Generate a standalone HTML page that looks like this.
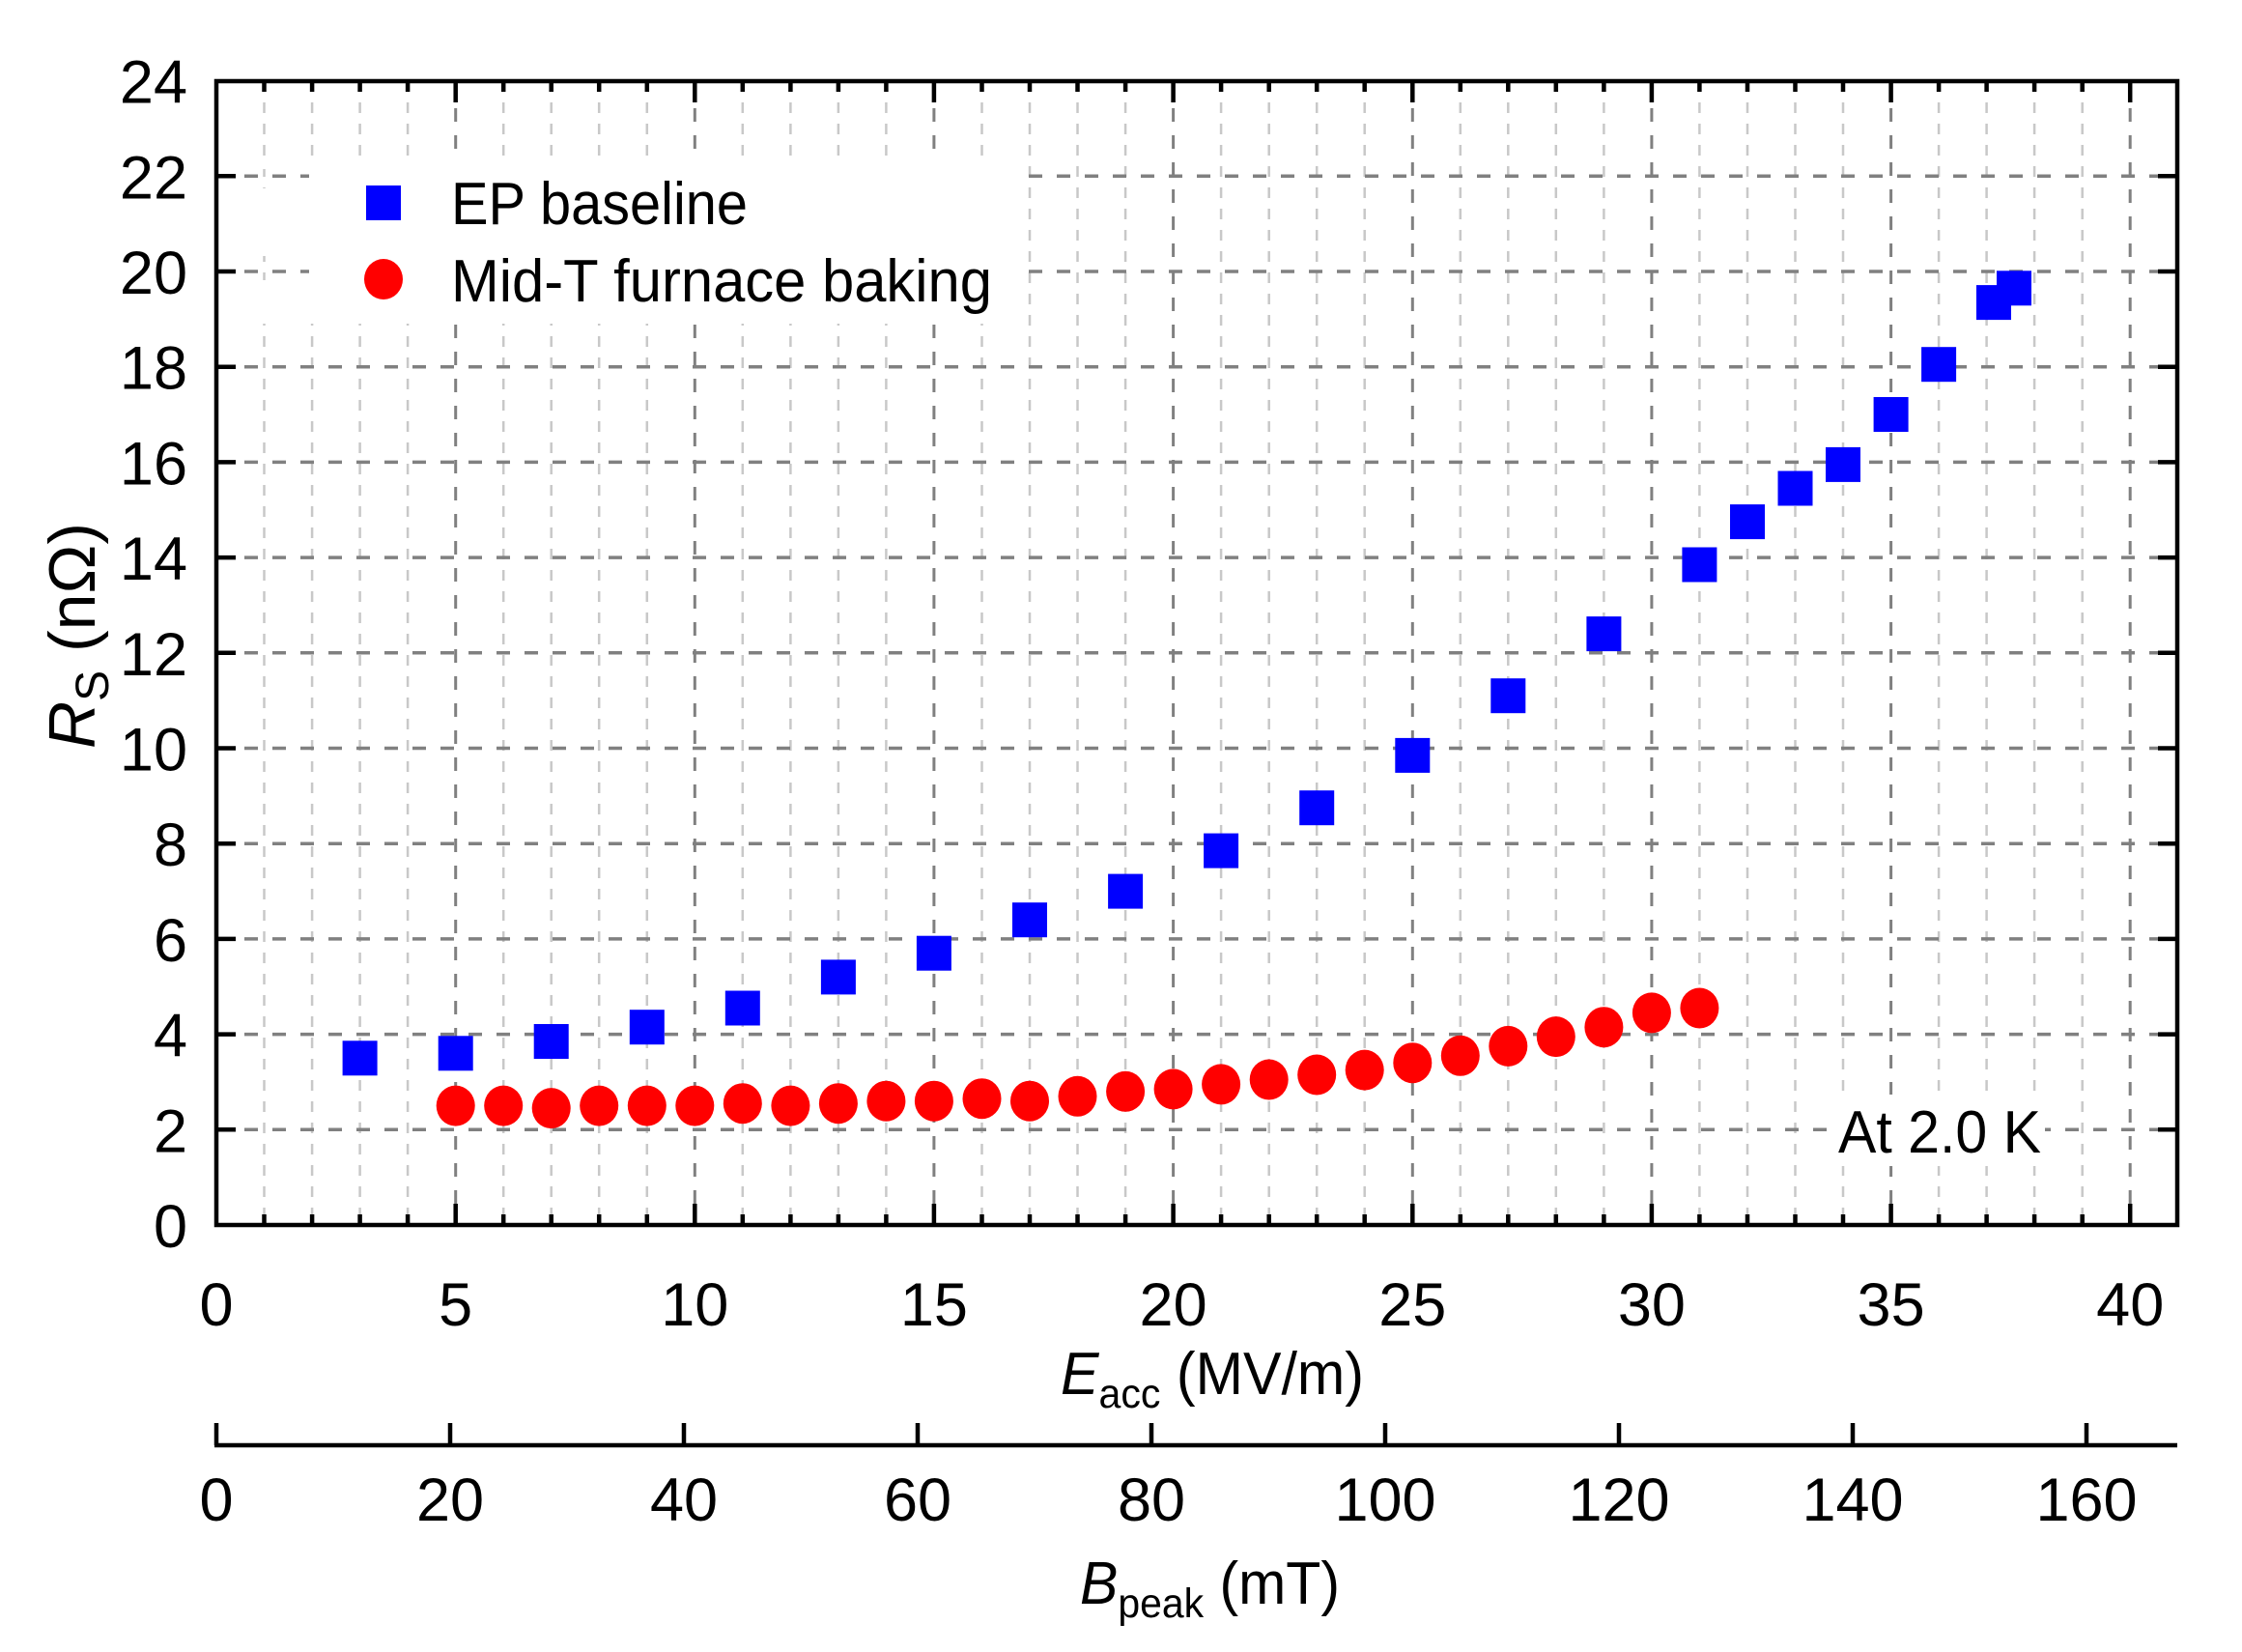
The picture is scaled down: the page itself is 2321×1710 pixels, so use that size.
<!DOCTYPE html>
<html><head><meta charset="utf-8"><style>
html,body{margin:0;padding:0;background:#fff;}
svg{display:block;}
text{font-family:"Liberation Sans",Arial,sans-serif;fill:#000;}
</style></head><body>
<svg width="2321" height="1710" viewBox="0 0 2321 1710" xmlns="http://www.w3.org/2000/svg">
<!-- minor vertical grid -->
<path fill="none" stroke="#c8c8c8" stroke-width="2.5" stroke-dasharray="11,11" d="M273.5 84V1268M323.1 84V1268M372.6 84V1268M422.1 84V1268M521.2 84V1268M570.7 84V1268M620.2 84V1268M669.8 84V1268M768.8 84V1268M818.4 84V1268M867.9 84V1268M917.4 84V1268M1016.5 84V1268M1066 84V1268M1115.5 84V1268M1165.1 84V1268M1264.1 84V1268M1313.7 84V1268M1363.2 84V1268M1412.7 84V1268M1511.8 84V1268M1561.3 84V1268M1610.8 84V1268M1660.4 84V1268M1759.4 84V1268M1809 84V1268M1858.5 84V1268M1908 84V1268M2007.1 84V1268M2056.6 84V1268M2106.1 84V1268M2155.7 84V1268"/>
<!-- major vertical grid -->
<path fill="none" stroke="#808080" stroke-width="3" stroke-dasharray="14,14" d="M471.7 84V1268M719.3 84V1268M966.9 84V1268M1214.6 84V1268M1462.3 84V1268M1709.9 84V1268M1957.6 84V1268M2205.2 84V1268"/>
<!-- horizontal grid -->
<path fill="none" stroke="#808080" stroke-width="3.5" stroke-dasharray="14,15" d="M224 1169.3H2254M224 1070.6H2254M224 971.9H2254M224 873.2H2254M224 774.5H2254M224 675.8H2254M224 577.1H2254M224 478.4H2254M224 379.7H2254M224 281H2254M224 182.3H2254"/>
<!-- legend background -->
<rect x="320" y="163" width="744" height="172" fill="#fff"/>
<rect x="250" y="195" width="80" height="70" fill="#fff"/>
<rect x="250" y="290" width="80" height="45" fill="#fff"/>
<rect x="250" y="163" width="80" height="12" fill="#fff"/>
<!-- At 2.0 K background -->
<rect x="1895" y="1133" width="222" height="74" fill="#fff"/>
<!-- axes box -->
<rect x="224" y="84" width="2030" height="1184" fill="none" stroke="#000" stroke-width="4.5"/>
<!-- ticks -->
<path fill="none" stroke="#000" stroke-width="4.5" d="M273.5 1268v-11M323.1 1268v-11M372.6 1268v-11M422.1 1268v-11M471.7 1268v-22M521.2 1268v-11M570.7 1268v-11M620.2 1268v-11M669.8 1268v-11M719.3 1268v-22M768.8 1268v-11M818.4 1268v-11M867.9 1268v-11M917.4 1268v-11M966.9 1268v-22M1016.5 1268v-11M1066 1268v-11M1115.5 1268v-11M1165.1 1268v-11M1214.6 1268v-22M1264.1 1268v-11M1313.7 1268v-11M1363.2 1268v-11M1412.7 1268v-11M1462.3 1268v-22M1511.8 1268v-11M1561.3 1268v-11M1610.8 1268v-11M1660.4 1268v-11M1709.9 1268v-22M1759.4 1268v-11M1809 1268v-11M1858.5 1268v-11M1908 1268v-11M1957.6 1268v-22M2007.1 1268v-11M2056.6 1268v-11M2106.1 1268v-11M2155.7 1268v-11M2205.2 1268v-22
M273.5 84v11M323.1 84v11M372.6 84v11M422.1 84v11M471.7 84v22M521.2 84v11M570.7 84v11M620.2 84v11M669.8 84v11M719.3 84v22M768.8 84v11M818.4 84v11M867.9 84v11M917.4 84v11M966.9 84v22M1016.5 84v11M1066 84v11M1115.5 84v11M1165.1 84v11M1214.6 84v22M1264.1 84v11M1313.7 84v11M1363.2 84v11M1412.7 84v11M1462.3 84v22M1511.8 84v11M1561.3 84v11M1610.8 84v11M1660.4 84v11M1709.9 84v22M1759.4 84v11M1809 84v11M1858.5 84v11M1908 84v11M1957.6 84v22M2007.1 84v11M2056.6 84v11M2106.1 84v11M2155.7 84v11M2205.2 84v22
M224 1169.3h20M224 1070.6h20M224 971.9h20M224 873.2h20M224 774.5h20M224 675.8h20M224 577.1h20M224 478.4h20M224 379.7h20M224 281h20M224 182.3h20
M2254 1169.3h-20M2254 1070.6h-20M2254 971.9h-20M2254 873.2h-20M2254 774.5h-20M2254 675.8h-20M2254 577.1h-20M2254 478.4h-20M2254 379.7h-20M2254 281h-20M2254 182.3h-20"/>
<!-- second axis -->
<path fill="none" stroke="#000" stroke-width="4.5" d="M222 1496H2254M224 1496v-23M466 1496v-23M708 1496v-23M950 1496v-23M1192 1496v-23M1434 1496v-23M1676 1496v-23M1918 1496v-23M2160 1496v-23"/>
<!-- tick labels -->
<g font-size="63" text-anchor="middle">
<text x="224" y="1372">0</text><text x="471.7" y="1372">5</text><text x="719.3" y="1372">10</text><text x="966.9" y="1372">15</text><text x="1214.6" y="1372">20</text><text x="1462.3" y="1372">25</text><text x="1709.9" y="1372">30</text><text x="1957.6" y="1372">35</text><text x="2205.2" y="1372">40</text>
<text x="224" y="1574">0</text><text x="466" y="1574">20</text><text x="708" y="1574">40</text><text x="950" y="1574">60</text><text x="1192" y="1574">80</text><text x="1434" y="1574">100</text><text x="1676" y="1574">120</text><text x="1918" y="1574">140</text><text x="2160" y="1574">160</text>
</g>
<g font-size="63" text-anchor="end">
<text x="194" y="1291">0</text><text x="194" y="1192.3">2</text><text x="194" y="1093.6">4</text><text x="194" y="994.9">6</text><text x="194" y="896.2">8</text><text x="194" y="797.5">10</text><text x="194" y="698.8">12</text><text x="194" y="600.1">14</text><text x="194" y="501.4">16</text><text x="194" y="402.7">18</text><text x="194" y="304">20</text><text x="194" y="205.3">22</text><text x="194" y="106.6">24</text>
</g>
<!-- data: EP baseline -->
<g fill="#0000ff">
<rect x="354.6" y="1077.3" width="36" height="36"/><rect x="453.7" y="1072.3" width="36" height="36"/><rect x="552.7" y="1060" width="36" height="36"/><rect x="651.8" y="1045.2" width="36" height="36"/><rect x="750.8" y="1025.5" width="36" height="36"/><rect x="849.9" y="993.4" width="36" height="36"/><rect x="948.9" y="968.7" width="36" height="36"/><rect x="1048" y="934.2" width="36" height="36"/><rect x="1147.1" y="904.6" width="36" height="36"/><rect x="1246.1" y="862.6" width="36" height="36"/><rect x="1345.2" y="818.2" width="36" height="36"/><rect x="1444.3" y="763.9" width="36" height="36"/><rect x="1543.3" y="702.2" width="36" height="36"/><rect x="1642.4" y="638.1" width="36" height="36"/><rect x="1741.4" y="566.5" width="36" height="36"/><rect x="1791" y="522.1" width="36" height="36"/><rect x="1840.5" y="487.5" width="36" height="36"/><rect x="1890" y="462.9" width="36" height="36"/><rect x="1939.6" y="411" width="36" height="36"/><rect x="1989.1" y="359.2" width="36" height="36"/><rect x="2046" y="295.1" width="36" height="36"/><rect x="2067" y="280.3" width="36" height="36"/>
</g>
<!-- data: Mid-T -->
<g fill="#ff0000">
<ellipse cx="471.7" cy="1144.6" rx="20" ry="21"/><ellipse cx="521.2" cy="1144.6" rx="20" ry="21"/><ellipse cx="570.7" cy="1147.1" rx="20" ry="21"/><ellipse cx="620.2" cy="1144.6" rx="20" ry="21"/><ellipse cx="669.8" cy="1144.6" rx="20" ry="21"/><ellipse cx="719.3" cy="1144.6" rx="20" ry="21"/><ellipse cx="768.8" cy="1142.2" rx="20" ry="21"/><ellipse cx="818.4" cy="1144.6" rx="20" ry="21"/><ellipse cx="867.9" cy="1142.2" rx="20" ry="21"/><ellipse cx="917.4" cy="1139.7" rx="20" ry="21"/><ellipse cx="966.9" cy="1139.7" rx="20" ry="21"/><ellipse cx="1016.5" cy="1137.2" rx="20" ry="21"/><ellipse cx="1066" cy="1139.7" rx="20" ry="21"/><ellipse cx="1115.5" cy="1134.8" rx="20" ry="21"/><ellipse cx="1165.1" cy="1129.8" rx="20" ry="21"/><ellipse cx="1214.6" cy="1127.4" rx="20" ry="21"/><ellipse cx="1264.1" cy="1122.4" rx="20" ry="21"/><ellipse cx="1313.7" cy="1117.5" rx="20" ry="21"/><ellipse cx="1363.2" cy="1112.5" rx="20" ry="21"/><ellipse cx="1412.7" cy="1107.6" rx="20" ry="21"/><ellipse cx="1462.3" cy="1100.2" rx="20" ry="21"/><ellipse cx="1511.8" cy="1092.8" rx="20" ry="21"/><ellipse cx="1561.3" cy="1082.9" rx="20" ry="21"/><ellipse cx="1610.8" cy="1073.1" rx="20" ry="21"/><ellipse cx="1660.4" cy="1063.2" rx="20" ry="21"/><ellipse cx="1709.9" cy="1048.4" rx="20" ry="21"/><ellipse cx="1759.4" cy="1043.5" rx="20" ry="21"/>
</g>
<!-- legend -->
<rect x="379" y="192" width="36" height="36" fill="#0000ff"/>
<ellipse cx="397" cy="289" rx="20" ry="21" fill="#ff0000"/>
<text x="467" y="232" font-size="62" textLength="307" lengthAdjust="spacingAndGlyphs">EP baseline</text>
<text x="467" y="312" font-size="62" textLength="560" lengthAdjust="spacingAndGlyphs">Mid-T furnace baking</text>
<text x="1903" y="1193" font-size="62" textLength="210" lengthAdjust="spacingAndGlyphs">At 2.0 K</text>
<!-- titles -->
<text x="1098" y="1443" font-size="62" textLength="314" lengthAdjust="spacingAndGlyphs"><tspan font-style="italic">E</tspan><tspan font-size="43" dy="14">acc</tspan><tspan dy="-14"> (MV/m)</tspan></text>
<text x="1118" y="1660" font-size="62" textLength="269" lengthAdjust="spacingAndGlyphs"><tspan font-style="italic">B</tspan><tspan font-size="43" dy="14">peak</tspan><tspan dy="-14"> (mT)</tspan></text>
<text transform="translate(98,775) rotate(-90)" font-size="68"><tspan font-style="italic">R</tspan><tspan font-size="48" dy="14">S</tspan><tspan dy="-14"> (nΩ)</tspan></text>
</svg>
</body></html>
